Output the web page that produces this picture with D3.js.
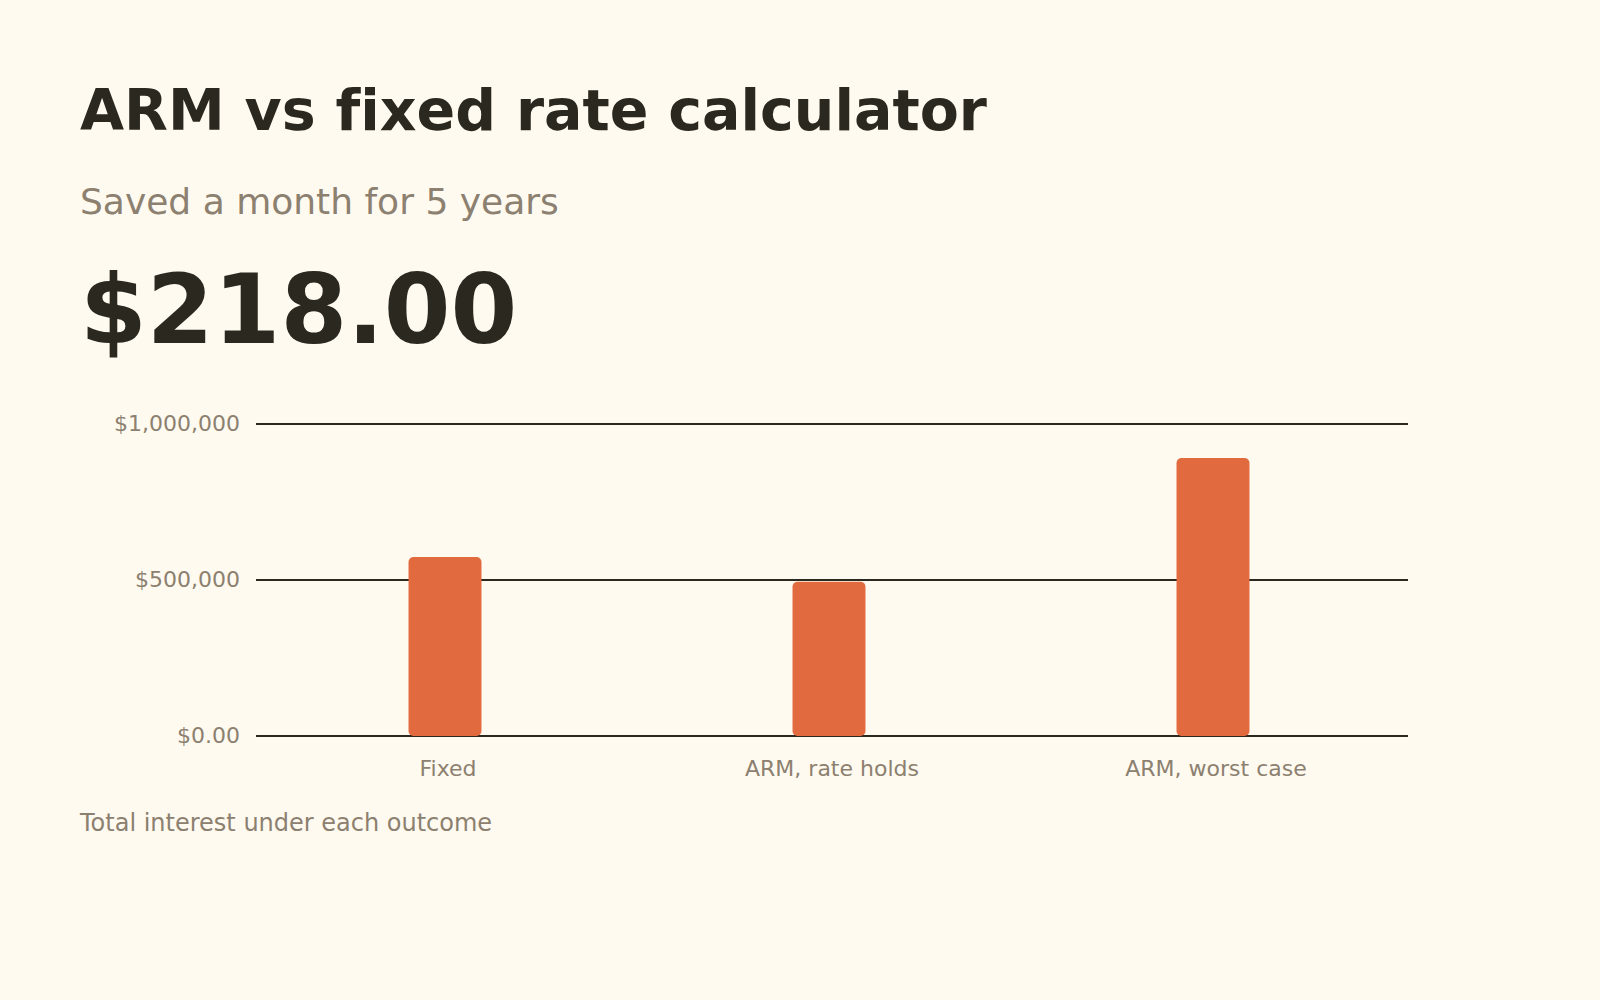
<!DOCTYPE html>
<html>
<head>
<meta charset="utf-8">
<script src="https://cdn.jsdelivr.net/npm/d3@7"></script>
<style>
  html, body { margin: 0; padding: 0; background: #fffaef; }
  svg { display: block; font-family: "DejaVu Sans", sans-serif; font-variant-ligatures: none; }
</style>
</head>
<body>
<script>
// chart values
var outcomes = ["Fixed", "ARM, rate holds", "ARM, worst case"];
var totalInterest = [574000, 494000, 891000];
var yTicks = [0, 500000, 1000000];
var headline = "$218.00";

var ink = "#2b2820", grey = "#8c8070", barColor = "#e26a3f";

var svg = d3.select("body").append("svg")
	.attr("width", 1600)
	.attr("height", 1000);

svg.append("rect")
	.attr("width", 1600)
	.attr("height", 1000)
	.attr("fill", "#fffaef");

svg.append("text")
	.attr("x", 80)
	.attr("y", 130)
	.attr("font-size", 57)
	.attr("font-weight", "bold")
	.attr("fill", ink)
	.text("ARM vs fixed rate calculator");

svg.append("text")
	.attr("x", 80)
	.attr("y", 214)
	.attr("font-size", 36)
	.attr("fill", grey)
	.text("Saved a month for 5 years");

svg.append("text")
	.attr("x", 80)
	.attr("y", 343)
	.attr("font-size", 96)
	.attr("font-weight", "bold")
	.attr("fill", ink)
	.text(headline);

// plot box (window.top is reserved, so not "top")
var plotLeft = 256, plotRight = 1408, plotTop = 424, plotBottom = 736;

var x = d3.scaleBand()
	.domain(outcomes)
	.range([plotLeft, plotRight]);

var y = d3.scaleLinear()
	.domain([0, 1000000])
	.range([plotBottom, plotTop]);

var money = function(v){
	return v === 0 ? "$0.00" : "$" + d3.format(",")(v);
};

var yAxis = svg.append("g")
	.attr("transform", "translate(" + plotLeft + ",0)")
	.call(d3.axisLeft(y).tickValues(yTicks).tickFormat(money).offset(0)
		.tickSize(-(plotRight - plotLeft)).tickPadding(16));
yAxis.select(".domain").remove();
yAxis.selectAll(".tick line").attr("stroke", ink).attr("stroke-width", 2);
yAxis.selectAll(".tick text")
	.attr("font-size", 22)
	.attr("font-family", "DejaVu Sans, sans-serif")
	.attr("fill", grey);

var xAxis = svg.append("g")
	.attr("transform", "translate(0," + plotBottom + ")")
	.call(d3.axisBottom(x).tickSize(0).tickPadding(24).offset(0));
xAxis.select(".domain").remove();
xAxis.selectAll(".tick text")
	.attr("font-size", 22)
	.attr("font-family", "DejaVu Sans, sans-serif")
	.attr("fill", grey);

var barW = x.bandwidth() * 0.19;

svg.append("g").selectAll("rect")
	.data(outcomes)
	.join("rect")
	.attr("x", function(d){ return x(d) + x.bandwidth() / 2 - barW / 2 - 3; })
	.attr("y", function(d, i){ return y(totalInterest[i]); })
	.attr("width", barW)
	.attr("height", function(d, i){ return y(0) - y(totalInterest[i]); })
	.attr("rx", 5)
	.attr("fill", barColor);

svg.append("text")
	.attr("x", 80)
	.attr("y", 831)
	.attr("font-size", 24)
	.attr("fill", grey)
	.text("Total interest under each outcome");
</script>
</body>
</html>
